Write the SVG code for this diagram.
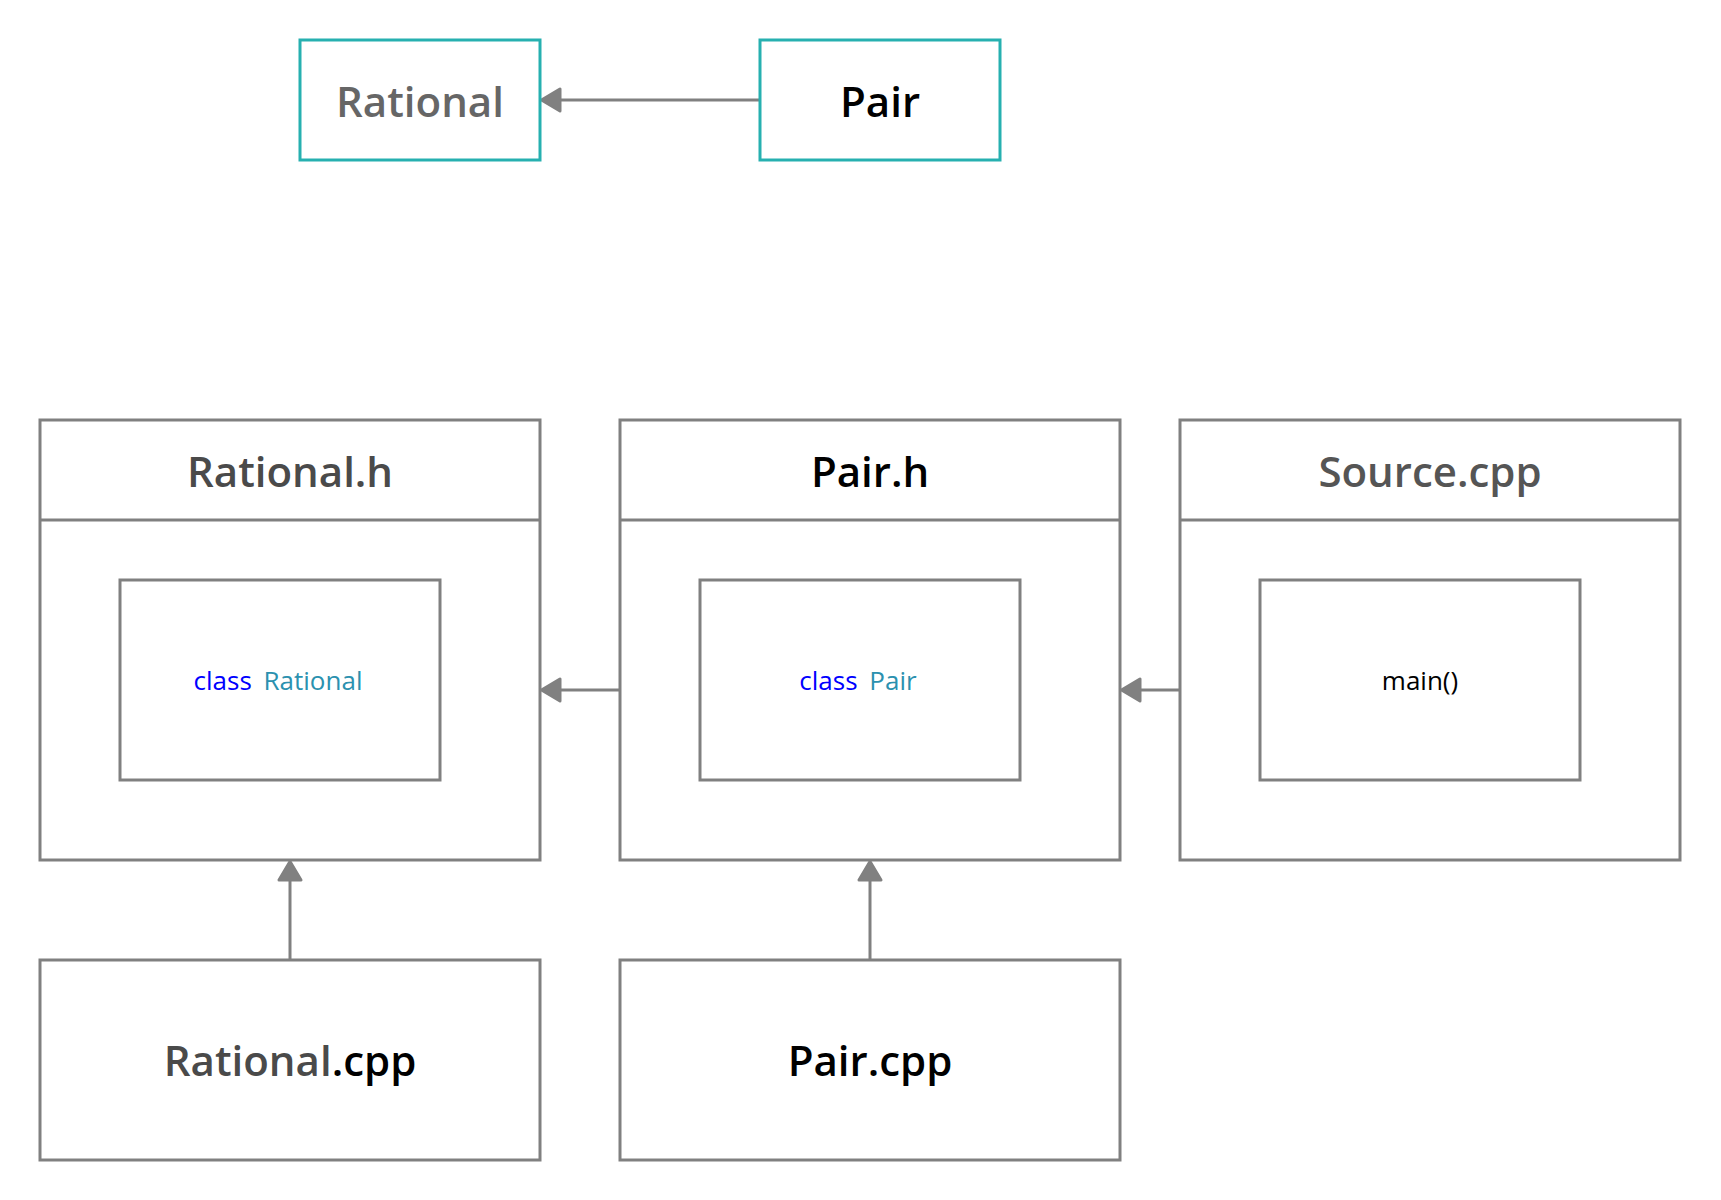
<svg xmlns="http://www.w3.org/2000/svg" width="1721" height="1200" viewBox="0 0 1721 1200">
<style>
  .box { fill: #ffffff; stroke: #808080; stroke-width: 3; }
  .tbox { fill: #ffffff; stroke: #26b0b0; stroke-width: 3; }
  .div { stroke: #808080; stroke-width: 3; fill: none; }
  .title { font-family: "Open Sans", "Noto Sans", sans-serif; font-size: 42px; font-weight: 600; text-anchor: middle; }
  .code { font-family: "Open Sans", "Noto Sans", sans-serif; font-size: 26px; text-anchor: middle; }
  .conn { stroke: #808080; stroke-width: 3; fill: none; marker-end: url(#arr); }
  .kw { fill: #0000ff; }
  .ty { fill: #2b91af; }
</style>
<defs>
  <marker id="arr" markerUnits="userSpaceOnUse" markerWidth="26" markerHeight="30" viewBox="-2 -15 26 30" refX="0" refY="0" orient="auto">
    <path d="M0,-11 L18.5,0 L0,11 Z" fill="#808080" stroke="#808080" stroke-width="3" stroke-linejoin="round"/>
  </marker>
</defs>
<rect width="1721" height="1200" fill="#ffffff"/>

<g id="connectors">
  <line class="conn" x1="760" y1="100" x2="560" y2="100"/>
  <line class="conn" x1="620" y1="690" x2="560" y2="690"/>
  <line class="conn" x1="1180" y1="690" x2="1140" y2="690"/>
  <line class="conn" x1="290" y1="960" x2="290" y2="880"/>
  <line class="conn" x1="870" y1="960" x2="870" y2="880"/>
</g>

<g id="rational">
  <rect class="tbox" x="300" y="40" width="240" height="120"/>
  <text class="title" x="420" y="117" fill="#666666">Rational</text>
</g>

<g id="pair">
  <rect class="tbox" x="760" y="40" width="240" height="120"/>
  <text class="title" x="880" y="117" fill="#000000">Pair</text>
</g>

<g id="rational-h">
  <rect class="box" x="40" y="420" width="500" height="440"/>
  <line class="div" x1="40" y1="520" x2="540" y2="520"/>
  <text class="title" x="290" y="487" fill="#4a4a4a">Rational.h</text>
  <rect class="box" x="120" y="580" width="320" height="200"/>
  <text class="code" x="278" y="690"><tspan class="kw">class</tspan> <tspan class="ty" dx="5">Rational</tspan></text>
</g>

<g id="pair-h">
  <rect class="box" x="620" y="420" width="500" height="440"/>
  <line class="div" x1="620" y1="520" x2="1120" y2="520"/>
  <text class="title" x="870" y="487" fill="#000000">Pair.h</text>
  <rect class="box" x="700" y="580" width="320" height="200"/>
  <text class="code" x="858" y="690"><tspan class="kw">class</tspan> <tspan class="ty" dx="5">Pair</tspan></text>
</g>

<g id="source-cpp">
  <rect class="box" x="1180" y="420" width="500" height="440"/>
  <line class="div" x1="1180" y1="520" x2="1680" y2="520"/>
  <text class="title" x="1430" y="487" fill="#555555">Source.cpp</text>
  <rect class="box" x="1260" y="580" width="320" height="200"/>
  <text class="code" x="1420" y="690" fill="#000000">main()</text>
</g>

<g id="rational-cpp">
  <rect class="box" x="40" y="960" width="500" height="200"/>
  <text class="title" x="290" y="1076"><tspan fill="#4a4a4a">Rational</tspan><tspan fill="#000000">.cpp</tspan></text>
</g>

<g id="pair-cpp">
  <rect class="box" x="620" y="960" width="500" height="200"/>
  <text class="title" x="870" y="1076" fill="#000000">Pair.cpp</text>
</g>
</svg>
